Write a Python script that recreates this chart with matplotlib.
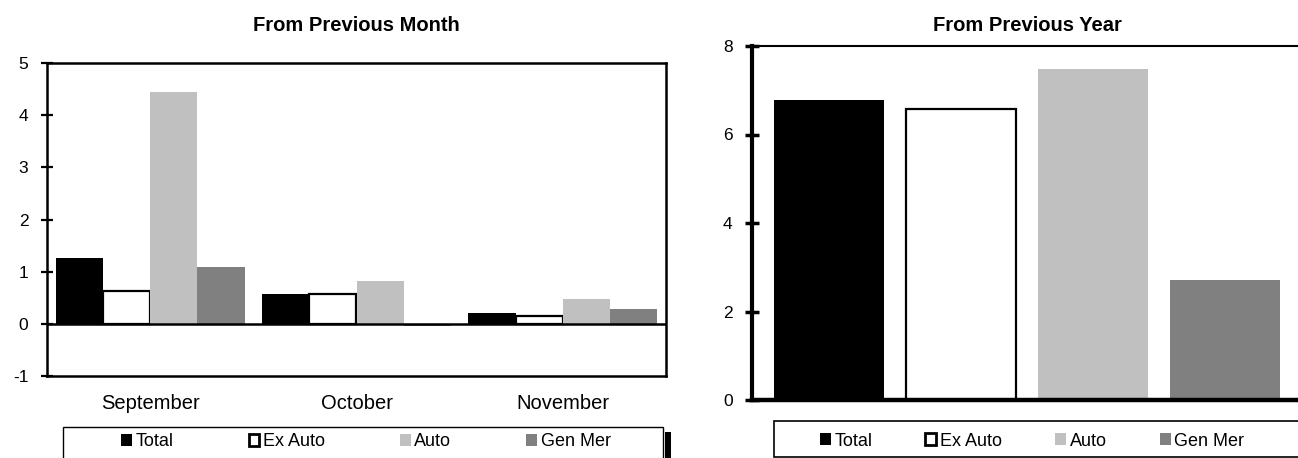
import numpy as np
import matplotlib.pyplot as plt
from matplotlib.patches import Patch, Rectangle

plt.rcParams['font.family'] = ['Liberation Sans', 'DejaVu Sans']
plt.rcParams['axes.unicode_minus'] = False

# monthly change, %
months = ['September', 'October', 'November']
total_m = [1.27, 0.58, 0.20]
exauto_m = [0.62, 0.58, 0.15]
auto_m = [4.45, 0.82, 0.47]
genmer_m = [1.08, -0.05, 0.29]

# change from previous year, %
series = ['Total', 'Ex Auto', 'Auto', 'Gen Mer']
yearly = [6.77, 6.57, 7.48, 2.72]

colors = ['black', 'white', '#c0c0c0', '#808080']
edges = ['black', 'black', '#c0c0c0', '#808080']
edge_lw = [0, 1.6, 0, 0]

fig = plt.figure(figsize=(12.98, 4.58), dpi=100)

# ---- left chart
ax1 = fig.add_axes([47 / 1298, 1 - 376 / 458, 619 / 1298, 313 / 458])
x = np.arange(len(months))
bw = 0.229
offsets = [-1.5 * bw, -0.5 * bw, 0.5 * bw, 1.5 * bw]
for vals, off, c, ec, lw in zip([total_m, exauto_m, auto_m, genmer_m], offsets, colors, edges, edge_lw):
    ax1.bar(x + off, vals, width=bw, color=c, edgecolor=ec, linewidth=lw, zorder=2)
ax1.axhline(0, color='black', lw=1.8, zorder=3)
ax1.set_xlim(-0.5, 2.5)
ax1.set_ylim(-1, 5)
ax1.set_yticks(range(-1, 6))
ax1.set_xticks(x)
ax1.set_xticklabels(months, fontsize=14.5)
ax1.tick_params(axis='x', length=0, pad=13)
ax1.tick_params(axis='y', direction='inout', length=9, width=1.6, labelsize=12.5, pad=9)
for s in ax1.spines.values():
    s.set_linewidth(1.8)
ax1.set_title('From Previous Month', fontsize=14.5, fontweight='bold', pad=23)

# ---- right chart
ax2 = fig.add_axes([752 / 1298, 1 - 400 / 458, 550 / 1298, 354 / 458])
xi = np.arange(len(series))
for i in range(len(series)):
    ax2.bar(xi[i], yearly[i], width=0.84, color=colors[i], edgecolor=edges[i],
            linewidth=edge_lw[i], zorder=2)
ax2.set_xlim(-0.583, 3.583)
ax2.set_ylim(0, 8)
ax2.set_yticks(range(0, 9, 2))
ax2.set_xticks([])
ax2.tick_params(axis='y', direction='inout', length=10, width=2.5, labelsize=12.5, pad=9)
ax2.spines['left'].set_linewidth(3)
ax2.spines['bottom'].set_linewidth(3.2)
ax2.spines['top'].set_linewidth(1.5)
ax2.spines['right'].set_linewidth(1.5)
ax2.set_title('From Previous Year', fontsize=14.5, fontweight='bold', pad=11)

# ---- legends
handles = [Patch(facecolor=c, edgecolor=ec if lw else c, linewidth=lw if lw else 0)
           for c, ec, lw in zip(colors, edges, [0, 2.0, 0, 0])]

fig.add_artist(Rectangle((63 / 1298, -0.02), 600 / 1298, 0.02 + 1 - 427 / 458,
                         transform=fig.transFigure, facecolor='white', edgecolor='black', lw=1))
fig.add_artist(Rectangle((665 / 1298, -0.02), 6 / 1298, 0.02 + 1 - 432 / 458,
                         transform=fig.transFigure, facecolor='black', edgecolor='none'))
fig.legend(handles, series, loc='center', bbox_to_anchor=(366 / 1298, 1 - 442 / 458), ncol=4,
           frameon=False, fontsize=13, handlelength=0.6, handleheight=0.6,
           handletextpad=0.2, columnspacing=4.15)

fig.add_artist(Rectangle((774 / 1298, 1 - 457 / 458), 0.5, 36 / 458,
                         transform=fig.transFigure, facecolor='white', edgecolor='black', lw=1.2))
fig.legend(handles, series, loc='center', bbox_to_anchor=(1032 / 1298, 1 - 441 / 458), ncol=4,
           frameon=False, fontsize=13, handlelength=0.6, handleheight=0.6,
           handletextpad=0.2, columnspacing=2.95)

fig.savefig('out.png', dpi=100)
